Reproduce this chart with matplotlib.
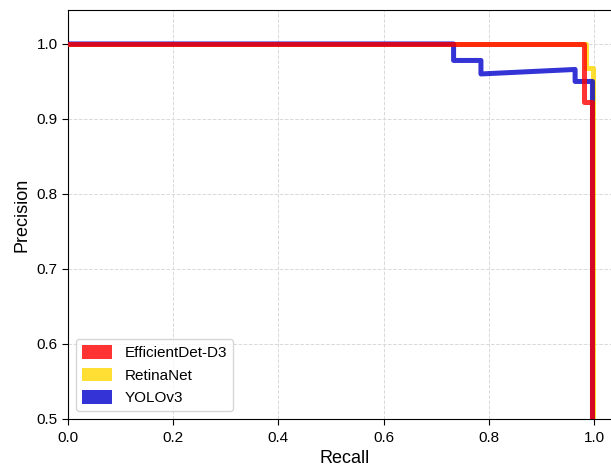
import matplotlib
matplotlib.use("Agg")
import matplotlib.pyplot as plt
from matplotlib.patches import Patch

plt.rcParams['font.family'] = ['Liberation Sans', 'DejaVu Sans']

# Data
eff_recall = [0.0, 0.981, 0.981, 0.997, 0.997]
eff_prec = [1.0, 1.0, 0.922, 0.922, 0.5]
ret_recall = [0.0, 0.985, 0.985, 0.998, 0.998]
ret_prec = [1.0, 1.0, 0.968, 0.968, 0.5]
yolo_recall = [0.0, 0.733, 0.733, 0.785, 0.785, 0.964, 0.964, 0.997, 0.997]
yolo_prec = [1.0, 1.0, 0.978, 0.978, 0.960, 0.966, 0.950, 0.950, 0.5]
labels = ["EfficientDet-D3", "RetinaNet", "YOLOv3"]
colors = ["#ff0000", "#ffd700", "#0000cc"]
xticks = [0.0, 0.2, 0.4, 0.6, 0.8, 1.0]
yticks = [0.5, 0.6, 0.7, 0.8, 0.9, 1.0]

fig = plt.figure(figsize=(6.11, 4.66), dpi=100)
ax = fig.add_axes([0.1113, 0.1009, 0.904, 0.8777])

lw = 3.6
ax.plot(ret_recall, ret_prec, color=colors[1], lw=lw, alpha=0.8, zorder=3)
ax.plot(yolo_recall, yolo_prec, color=colors[2], lw=lw, alpha=0.8, zorder=4)
ax.plot(eff_recall, eff_prec, color=colors[0], lw=lw, alpha=0.8, zorder=5)

ax.set_xlim(0, 1.05)
ax.set_ylim(0.5, 1.0453)
ax.set_xticks(xticks)
ax.set_yticks(yticks)
ax.set_xticklabels([f"{v:.1f}" for v in xticks])
ax.set_yticklabels([f"{v:.1f}" for v in yticks])
ax.tick_params(labelsize=11, direction='out', length=4)
ax.tick_params(axis='x', pad=4.5)
ax.grid(True, linestyle='--', color='#d9d9d9', linewidth=0.7)
ax.set_axisbelow(True)
ax.set_xlabel("Recall", fontsize=13, labelpad=4)
ax.set_ylabel("Precision", fontsize=13)

handles = [Patch(facecolor=c, alpha=0.8, edgecolor='none') for c in colors]
ax.legend(handles, labels, loc='lower left', fontsize=11, frameon=True,
          handlelength=2.0, handleheight=0.95, borderaxespad=0.5)

fig.savefig("out.png", dpi=100)
